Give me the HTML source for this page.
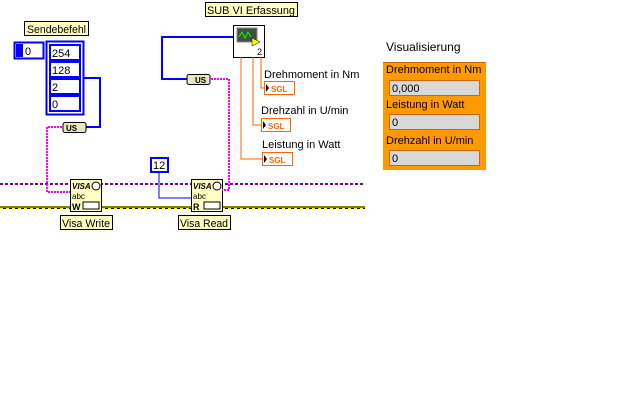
<!DOCTYPE html>
<html><head><style>
html,body{margin:0;padding:0;background:#fff;}
svg{display:block;font-family:"Liberation Sans",sans-serif;}
</style></head><body>
<svg width="640" height="400" viewBox="0 0 640 400" xmlns="http://www.w3.org/2000/svg">
<defs>
<pattern id="yb" width="6" height="3" patternUnits="userSpaceOnUse"><rect width="6" height="3" fill="#000"/><rect x="0" y="1" width="3" height="1" fill="#ffff00"/><rect x="0" y="0" width="6" height="1" fill="#808000"/><rect x="0" y="2" width="6" height="1" fill="#808000"/></pattern>
</defs>
<polyline points="0,184 365,184" fill="none" stroke="#880088" stroke-width="2" stroke-dasharray="3,2"/>
<rect x="0" y="206" width="365" height="3" fill="url(#yb)"/>

<rect x="24.5" y="21.5" width="64" height="14" fill="#ffffc0" stroke="#000"/>
<text x="27" y="33" font-size="11" textLength="59" lengthAdjust="spacingAndGlyphs">Sendebefehl</text>
<rect x="14.5" y="42.5" width="29" height="16" fill="#fff" stroke="#0000ff" stroke-width="2"/>
<rect x="16" y="44" width="7" height="13" fill="#0000ff"/>
<text x="25" y="55" font-size="11">0</text>
<rect x="46.5" y="41.5" width="37" height="73" fill="#fff" stroke="#0000ff" stroke-width="2"/>
<g fill="#fff" stroke="#0000ff" stroke-width="2">
<rect x="50" y="45" width="30" height="15"/><rect x="50" y="62" width="30" height="15"/><rect x="50" y="79" width="30" height="15"/><rect x="50" y="96" width="30" height="15"/>
</g>
<g font-size="11"><text x="52" y="57">254</text><text x="52" y="74">128</text><text x="52" y="91">2</text><text x="52" y="108">0</text></g>
<polyline points="84,78 100,78 100,127 86,127" fill="none" stroke="#0000ff" stroke-width="2"/>
<rect x="63" y="122.5" width="23" height="10" rx="2" fill="#e8e8c0" stroke="#000"/>
<text x="66" y="131" font-size="8" font-weight="bold">US</text>
<polyline points="62,127 47,127 47,192 70,192" fill="none" stroke="#ff00ff" stroke-width="2" stroke-dasharray="2,1"/>

<rect x="70.5" y="179.5" width="31" height="32" fill="#ffffc0" stroke="#000"/>
<text x="72" y="189" font-size="8" font-style="italic" font-weight="bold">VISA</text>
<text x="72" y="199" font-size="8">abc</text>
<text x="72" y="210" font-size="9" font-weight="bold">W</text>
<circle cx="96" cy="186" r="4" fill="#fff" stroke="#000"/>
<rect x="83" y="202" width="16" height="7" fill="#fff" stroke="#000"/>
<rect x="60.5" y="215.5" width="52" height="14" fill="#ffffc0" stroke="#000"/>
<text x="62" y="227" font-size="11" textLength="48" lengthAdjust="spacingAndGlyphs">Visa Write</text>

<rect x="151" y="158" width="17" height="14" fill="#fff" stroke="#0000ff" stroke-width="2"/>
<text x="153" y="169" font-size="11">12</text>
<polyline points="159,173 159,198 191,198" fill="none" stroke="#0000ff" stroke-width="1"/>

<rect x="191.5" y="179.5" width="31" height="32" fill="#ffffc0" stroke="#000"/>
<text x="193" y="189" font-size="8" font-style="italic" font-weight="bold">VISA</text>
<text x="193" y="199" font-size="8">abc</text>
<text x="193" y="210" font-size="9" font-weight="bold">R</text>
<circle cx="217" cy="186" r="4" fill="#fff" stroke="#000"/>
<rect x="204" y="202" width="16" height="7" fill="#fff" stroke="#000"/>
<rect x="178.5" y="215.5" width="52" height="14" fill="#ffffc0" stroke="#000"/>
<text x="180" y="227" font-size="11" textLength="48" lengthAdjust="spacingAndGlyphs">Visa Read</text>

<rect x="205.5" y="2.5" width="92" height="14" fill="#ffffc0" stroke="#000"/>
<text x="207" y="14" font-size="11" textLength="88" lengthAdjust="spacingAndGlyphs">SUB VI Erfassung</text>
<polyline points="233,37 162,37 162,79 188,79" fill="none" stroke="#0000ff" stroke-width="2"/>
<rect x="187" y="74.5" width="23" height="10" rx="2" fill="#e8e8c0" stroke="#000"/>
<text x="195" y="83" font-size="8" font-weight="bold">US</text>
<polyline points="211,79 229,79 229,190 222,190" fill="none" stroke="#ff00ff" stroke-width="2" stroke-dasharray="2,1"/>
<rect x="233.5" y="25.5" width="31" height="32" fill="#fff" stroke="#000"/>
<rect x="237" y="28" width="20" height="14" fill="#405040" stroke="#888"/>
<polyline points="239,37 242,32 245,38 248,32 251,37" fill="none" stroke="#00ff00"/>
<polygon points="252,38 260,42 252,46" fill="#ffff00" stroke="#000" stroke-width="0.5"/>
<text x="257" y="55" font-size="9">2</text>
<g fill="none" stroke="#ff6600" stroke-width="1">
<polyline points="261,57 261,88 264,88"/>
<polyline points="253,57 253,125 261,125"/>
<polyline points="241,57 241,159 262,159"/>
</g>
<g font-size="11" fill="#000">
<text x="264" y="78">Drehmoment in Nm</text>
<text x="261" y="114">Drehzahl in U/min</text>
<text x="262" y="148">Leistung in Watt</text>
</g>
<g fill="#fff" stroke="#ff6600" stroke-width="1">
<rect x="264.5" y="81.5" width="30" height="13"/>
<rect x="261.5" y="118.5" width="29" height="13"/>
<rect x="262.5" y="152.5" width="30" height="13"/>
</g>
<g font-size="8" font-weight="bold" fill="#ff6600">
<text x="271" y="92">SGL</text><text x="268" y="129">SGL</text><text x="269" y="163">SGL</text>
</g>
<g fill="#000"><polygon points="266,84 269,88 266,92"/><polygon points="263,121 266,125 263,129"/><polygon points="264,155 267,159 264,163"/></g>

<text x="386" y="51" font-size="12">Visualisierung</text>
<rect x="383" y="62" width="103" height="108" fill="#ff9900"/>
<rect x="383" y="62" width="103" height="1" fill="#cc6600"/>
<g font-size="11" fill="#000">
<text x="386" y="73">Drehmoment in Nm</text>
<text x="386" y="108">Leistung in Watt</text>
<text x="386" y="144">Drehzahl in U/min</text>
</g>
<g fill="#d8d8d8" stroke="#cc6600">
<rect x="389.5" y="80.5" width="90" height="15"/>
<rect x="389.5" y="114.5" width="90" height="15"/>
<rect x="389.5" y="150.5" width="90" height="15"/>
</g>
<g font-size="11" fill="#000">
<text x="392" y="92">0,000</text><text x="392" y="126">0</text><text x="392" y="162">0</text>
</g>
</svg>
</body></html>
